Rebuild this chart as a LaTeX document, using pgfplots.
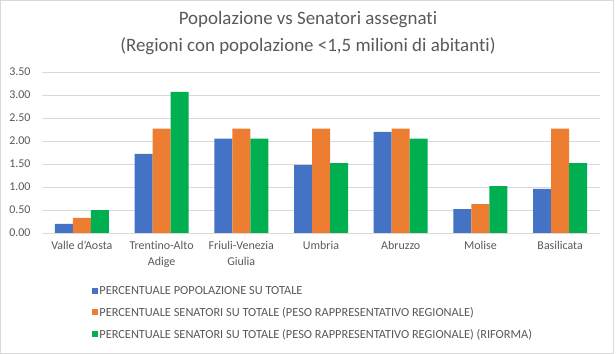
\documentclass[border=0pt]{standalone}
\usepackage{pgfplots}
\pgfplotsset{compat=1.18}
\usepackage{fontspec}
\setmainfont[Ligatures=NoCommon]{Carlito}
\definecolor{cblue}{HTML}{4472C4}
\definecolor{corange}{HTML}{ED7D31}
\definecolor{cgreen}{HTML}{00B050}
\definecolor{ctext}{HTML}{595959}
\definecolor{cgrid}{HTML}{D9D9D9}
\begin{document}
\begin{tikzpicture}
\path[use as bounding box] (0,0) rectangle (616bp,354bp);
\draw[cgrid, line width=0.75bp] (0.5bp,0.5bp) rectangle (613bp,353.5bp);
\node[font=\fontsize{19}{22}\selectfont, text=ctext] at (308bp,334bp) {Popolazione vs Senatori assegnati};
\node[font=\fontsize{19}{22}\selectfont, text=ctext] at (308bp,308bp) {(Regioni con popolazione <1,5 milioni di abitanti)};
\begin{axis}[
  at={(42bp,121bp)}, anchor=south west,
  scale only axis, width=558bp, height=161bp,
  ymin=0, ymax=3.5, ytick={0,0.5,...,3.5},
  xmin=-0.5, xmax=6.5,
  xtick={0,...,6},
  xticklabels={Valle d'Aosta,{Trentino-Alto\\Adige},{Friuli-Venezia\\Giulia},Umbria,Abruzzo,Molise,Basilicata},
  xticklabel style={align=center, font=\fontsize{12}{16}\selectfont, text=ctext, yshift=-5bp},
  yticklabel style={font=\fontsize{12}{13}\selectfont, text=ctext, xshift=-8bp},
  /pgf/number format/assume math mode=true,
  /pgf/number format/.cd, fixed, fixed zerofill, precision=2, /pgfplots/.cd,
  major tick length=0pt,
  axis line style={draw=none},
  ymajorgrids, grid style={cgrid, line width=0.75bp},
  ybar=0pt, bar width=18bp,
  legend style={at={(0.089,-0.322)}, anchor=north west, draw=none,
    font=\fontsize{12.4}{13}\selectfont, text=ctext, row sep=8.5bp,
    legend cell align=left, inner sep=0pt,
    nodes={inner sep=1.5bp}},
  legend image code/.code={\fill[#1] (0bp,-2.5bp) rectangle (6bp,3.5bp);},
]
\addplot[fill=cblue, draw=none] coordinates {(0,0.20) (1,1.72) (2,2.05) (3,1.48) (4,2.20) (5,0.52) (6,0.96)};
\addplot[fill=corange, draw=none] coordinates {(0,0.33) (1,2.27) (2,2.27) (3,2.27) (4,2.27) (5,0.63) (6,2.27)};
\addplot[fill=cgreen, draw=none] coordinates {(0,0.50) (1,3.07) (2,2.05) (3,1.52) (4,2.05) (5,1.02) (6,1.52)};
\draw[cgrid, line width=0.75bp] (axis cs:-0.5,0) -- (axis cs:6.5,0);
\legend{PERCENTUALE POPOLAZIONE SU TOTALE, PERCENTUALE SENATORI SU TOTALE (PESO RAPPRESENTATIVO REGIONALE), PERCENTUALE SENATORI SU TOTALE (PESO RAPPRESENTATIVO REGIONALE) (RIFORMA)}
\end{axis}
\end{tikzpicture}
\end{document}
